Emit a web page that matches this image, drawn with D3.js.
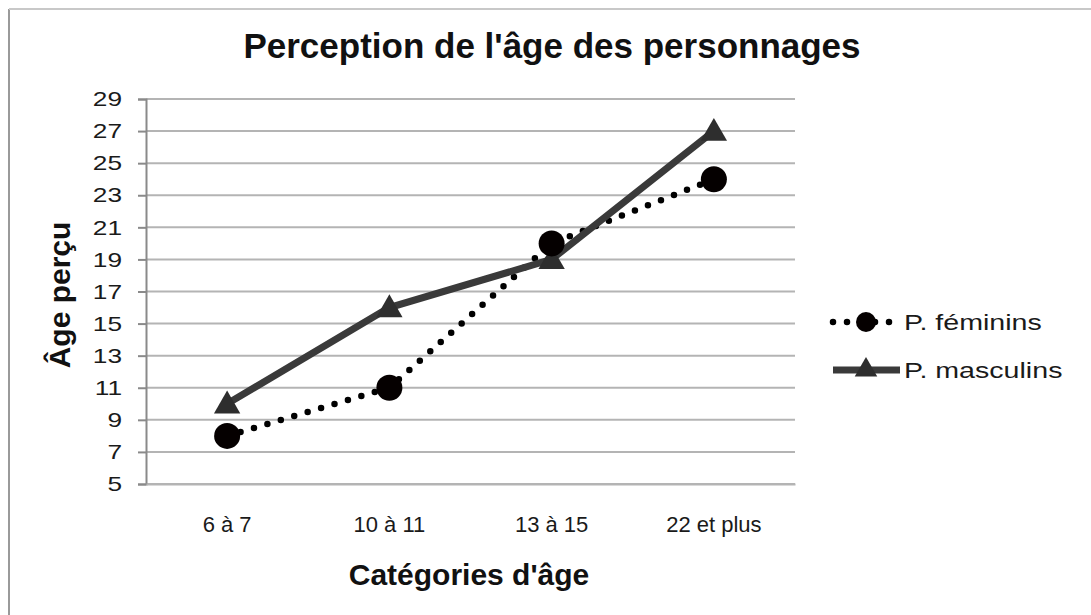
<!DOCTYPE html>
<html><head><meta charset="utf-8">
<script src="https://cdn.jsdelivr.net/npm/d3@7"></script>
<style>body{margin:0;background:#fff}svg{display:block}text{font-family:"Liberation Sans",Arial,sans-serif}</style>
</head><body>
<svg id="c" width="1091" height="615"></svg>
<script>
const categories = ["6 à 7", "10 à 11", "13 à 15", "22 et plus"];
const feminins = [8, 11, 20, 24];
const masculins = [10, 16, 19, 27];
const yTicks = [5, 7, 9, 11, 13, 15, 17, 19, 21, 23, 25, 27, 29];
const seriesNames = ["P. féminins", "P. masculins"];

const svg = d3.select("#c");
function stretch(sel, k) {
  sel.each(function () {
    const len = this.getComputedTextLength();
    d3.select(this).attr("textLength", len * k).attr("lengthAdjust", "spacingAndGlyphs");
  });
}
// outer border
svg.append("line").attr("x1", 9).attr("x2", 9).attr("y1", 9).attr("y2", 615).attr("stroke", "#9a9a9a").attr("stroke-width", 2);
svg.append("line").attr("x1", 9).attr("x2", 1091).attr("y1", 9).attr("y2", 9).attr("stroke", "#c8c8c8").attr("stroke-width", 2);

const x = d3.scaleBand().domain(categories).range([146, 795]);
const y = d3.scaleLinear().domain([5, 29]).range([484, 99]);

// gridlines
svg.append("g").selectAll("line").data(yTicks).join("line")
  .attr("x1", 146).attr("x2", 795)
  .attr("y1", d => y(d)).attr("y2", d => y(d))
  .attr("stroke", "#b4b4b4").attr("stroke-width", 2);

// y axis
const ya = svg.append("g").attr("transform", "translate(146,0)")
  .call(d3.axisLeft(y).tickValues(yTicks).tickSize(8).tickPadding(16));
ya.select(".domain").attr("stroke", "#8a8a8a").attr("stroke-width", 2);
ya.selectAll(".tick line").attr("stroke", "#8a8a8a").attr("stroke-width", 2);
ya.selectAll("text").attr("font-size", 21).attr("fill", "#1a1a1a").style("font-family", "Liberation Sans, Arial, sans-serif");
stretch(ya.selectAll("text"), 1.25);

// x axis
const xa = svg.append("g").attr("transform", "translate(0,484)")
  .call(d3.axisBottom(x).tickSize(0).tickPadding(32));
xa.select(".domain").attr("stroke", "#b4b4b4").attr("stroke-width", 2);
xa.selectAll("text").attr("font-size", 22).attr("fill", "#1a1a1a").style("font-family", "Liberation Sans, Arial, sans-serif");

const cx = d => x(d) + x.bandwidth() / 2;

// female dotted line
const lineF = d3.line().x((d, i) => cx(categories[i])).y(d => y(d));
svg.append("path").datum(feminins).attr("d", lineF)
  .attr("fill", "none").attr("stroke", "#000").attr("stroke-width", 6.5)
  .attr("stroke-linecap", "round").attr("stroke-dasharray", "0,14");
// male solid line
svg.append("path").datum(masculins).attr("d", lineF)
  .attr("fill", "none").attr("stroke", "#3a3a3a").attr("stroke-width", 7);

const tri = d3.symbol().type(d3.symbolTriangle).size(300);
svg.append("g").selectAll("path").data(masculins).join("path")
  .attr("d", tri).attr("transform", (d, i) => `translate(${cx(categories[i])},${y(d) + 2})`)
  .attr("fill", "#2e2e2e");
svg.append("g").selectAll("circle").data(feminins).join("circle")
  .attr("cx", (d, i) => cx(categories[i])).attr("cy", d => y(d)).attr("r", 13)
  .attr("fill", "#050000");

// title
svg.append("text").attr("x", 552).attr("y", 58).attr("text-anchor", "middle")
  .attr("font-size", 35).attr("font-weight", "bold").attr("fill", "#111")
  .text("Perception de l'âge des personnages");
// axis titles
svg.append("text").attr("x", 469).attr("y", 585).attr("text-anchor", "middle")
  .attr("font-size", 30).attr("font-weight", "bold").attr("fill", "#111")
  .text("Catégories d'âge");
svg.append("text").attr("transform", "translate(70,295) rotate(-90)").attr("text-anchor", "middle")
  .attr("font-size", 30).attr("font-weight", "bold").attr("fill", "#111")
  .text("Âge perçu");

// legend
const lg = svg.append("g");
const lx1 = 833, lx2 = 900, lmid = 866;
lg.append("line").attr("x1", lx1).attr("x2", lx2).attr("y1", 322).attr("y2", 322)
  .attr("stroke", "#000").attr("stroke-width", 6.5).attr("stroke-linecap", "round").attr("stroke-dasharray", "0,14");
lg.append("circle").attr("cx", lmid).attr("cy", 322).attr("r", 10).attr("fill", "#050000");
lg.append("line").attr("x1", lx1).attr("x2", lx2).attr("y1", 370).attr("y2", 370)
  .attr("stroke", "#3a3a3a").attr("stroke-width", 7);
lg.append("path").attr("d", d3.symbol().type(d3.symbolTriangle).size(220)).attr("transform", `translate(${lmid},370)`).attr("fill", "#2e2e2e");
const lt = lg.selectAll("text").data(seriesNames).join("text")
  .attr("x", 904).attr("y", (d, i) => 330 + i * 48)
  .attr("font-size", 22).attr("fill", "#1a1a1a").text(d => d);
stretch(lt, 1.3);
</script>
</body></html>
